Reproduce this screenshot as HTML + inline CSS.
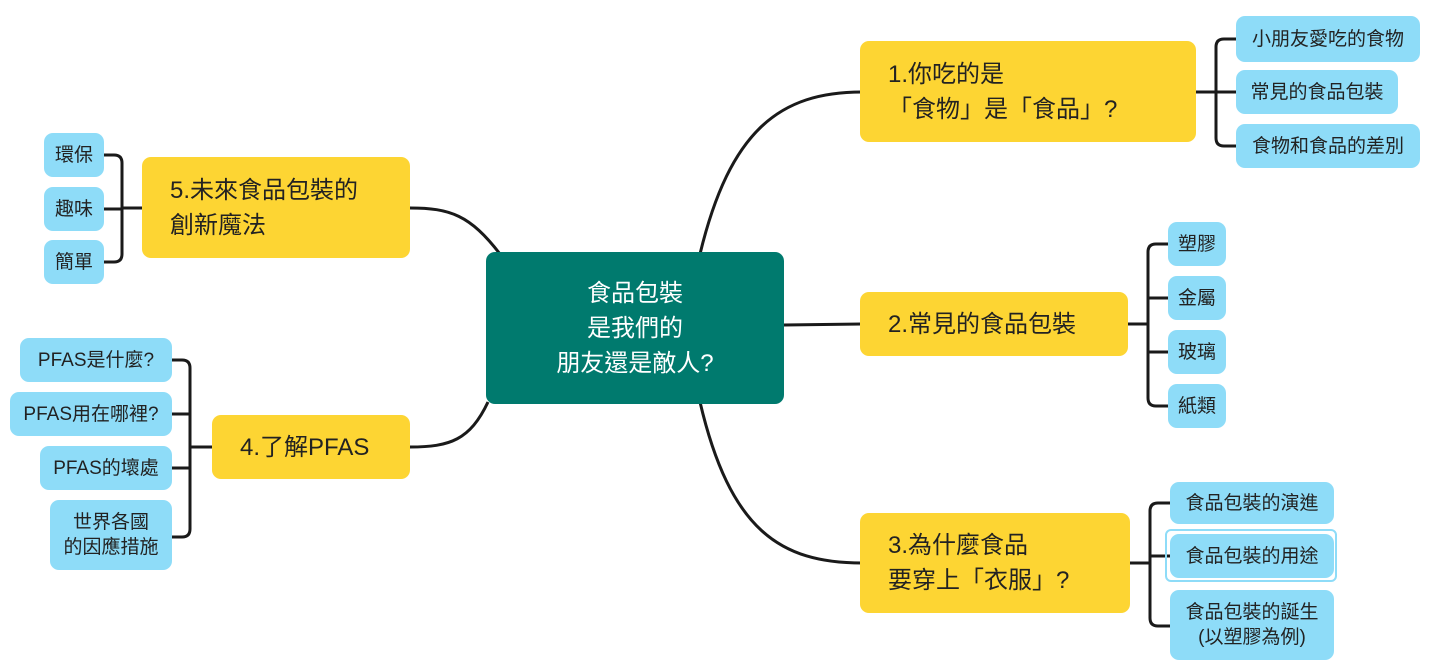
<!DOCTYPE html>
<html><head><meta charset="utf-8"><style>
body{margin:0;width:1432px;height:670px;background:#fff;position:relative;overflow:hidden;font-family:"Liberation Sans","Noto Sans CJK TC",sans-serif;}
.n{position:absolute;box-sizing:border-box;display:flex;flex-direction:column;justify-content:center;color:#222;}
.y{background:#FDD533;border-radius:9px;font-size:24px;line-height:35px;padding-left:28px;}
.b{background:#8EDCF8;border-radius:9px;font-size:19px;line-height:25px;align-items:center;text-align:center;white-space:nowrap;}
.c{background:#007A6E;border-radius:9px;color:#fff;font-size:24px;line-height:35px;align-items:center;text-align:center;}
svg{position:absolute;left:0;top:0;}
</style></head><body>
<svg width="1432" height="670" fill="none" stroke="#1a1a1a" stroke-width="3">
<path d="M700 254 C730 130 780 92 862 92"/>
<path d="M784 325 L862 324"/>
<path d="M700 402 C730 530 780 563 862 563"/>
<path d="M500 254 C470 215 450 208 410 208"/>
<path d="M488 402 C470 440 450 447 410 447"/>
<path d="M1196 92 H1216 M1236 39 H1224 Q1216 39 1216 47 V138 Q1216 146 1224 146 H1236 M1216 92 H1236"/>
<path d="M1128 324 H1148 M1168 244 H1156 Q1148 244 1148 252 V398 Q1148 406 1156 406 H1168 M1148 298 H1168 M1148 352 H1168"/>
<path d="M1130 563 H1150 M1170 503 H1158 Q1150 503 1150 511 V618 Q1150 626 1158 626 H1170 M1150 556 H1170"/>
<path d="M142 208 H122 M104 155 H114 Q122 155 122 163 V254 Q122 262 114 262 H104 M104 209 H122"/>
<path d="M212 447 H190 M172 360 H182 Q190 360 190 368 V529 Q190 537 182 537 H172 M172 414 H190 M172 468 H190"/>
</svg>
<div class="n c" style="left:486px;top:252px;width:298px;height:152px;">食品包裝<br>是我們的<br>朋友還是敵人?</div>
<div class="n y" style="left:860px;top:41px;width:336px;height:101px;">1.你吃的是<br>「食物」是「食品」?</div>
<div class="n y" style="left:860px;top:292px;width:268px;height:64px;">2.常見的食品包裝</div>
<div class="n y" style="left:860px;top:513px;width:270px;height:100px;">3.為什麼食品<br>要穿上「衣服」?</div>
<div class="n y" style="left:212px;top:415px;width:198px;height:64px;">4.了解PFAS</div>
<div class="n y" style="left:142px;top:157px;width:268px;height:101px;">5.未來食品包裝的<br>創新魔法</div>
<div class="n b" style="left:1236px;top:16px;width:184px;height:46px;">小朋友愛吃的食物</div>
<div class="n b" style="left:1236px;top:70px;width:162px;height:44px;">常見的食品包裝</div>
<div class="n b" style="left:1236px;top:124px;width:184px;height:44px;">食物和食品的差別</div>
<div class="n b" style="left:1168px;top:222px;width:58px;height:44px;">塑膠</div>
<div class="n b" style="left:1168px;top:276px;width:58px;height:44px;">金屬</div>
<div class="n b" style="left:1168px;top:330px;width:58px;height:44px;">玻璃</div>
<div class="n b" style="left:1168px;top:384px;width:58px;height:44px;">紙類</div>
<div class="n b" style="left:1170px;top:482px;width:164px;height:42px;">食品包裝的演進</div>
<div style="position:absolute;left:1165px;top:529px;width:172px;height:53px;border:2px solid #8EDCF8;border-radius:6px;box-sizing:border-box;"></div>
<div class="n b" style="left:1170px;top:534px;width:164px;height:44px;">食品包裝的用途</div>
<div class="n b" style="left:1170px;top:590px;width:164px;height:70px;">食品包裝的誕生<br>(以塑膠為例)</div>
<div class="n b" style="left:44px;top:133px;width:60px;height:44px;">環保</div>
<div class="n b" style="left:44px;top:187px;width:60px;height:44px;">趣味</div>
<div class="n b" style="left:44px;top:240px;width:60px;height:44px;">簡單</div>
<div class="n b" style="left:20px;top:338px;width:152px;height:44px;">PFAS是什麼?</div>
<div class="n b" style="left:10px;top:392px;width:162px;height:44px;">PFAS用在哪裡?</div>
<div class="n b" style="left:40px;top:446px;width:132px;height:44px;">PFAS的壞處</div>
<div class="n b" style="left:50px;top:500px;width:122px;height:70px;">世界各國<br>的因應措施</div>
</body></html>
